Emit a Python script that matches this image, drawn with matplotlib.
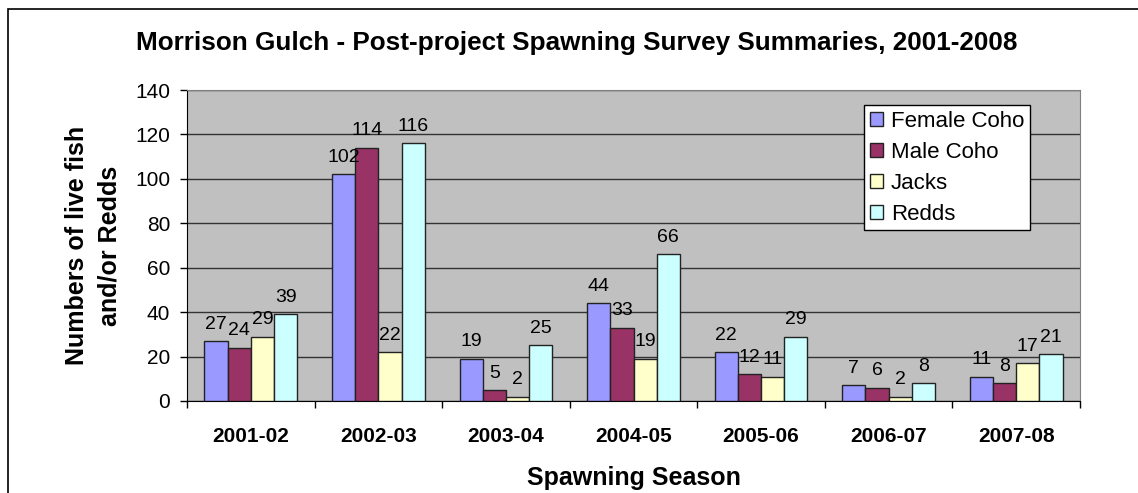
import numpy as np
import matplotlib
matplotlib.use("Agg")
import matplotlib.pyplot as plt
from matplotlib.patches import Rectangle

plt.rcParams['font.family'] = ['Liberation Sans', 'DejaVu Sans']

# survey seasons and counts per category
seasons = ["2001-02", "2002-03", "2003-04", "2004-05", "2005-06", "2006-07", "2007-08"]
female_coho = [27, 102, 19, 44, 22, 7, 11]
male_coho = [24, 114, 5, 33, 12, 6, 8]
jacks = [29, 22, 2, 19, 11, 2, 17]
redds = [39, 116, 25, 66, 29, 8, 21]

series_names = ["Female Coho", "Male Coho", "Jacks", "Redds"]
series_values = [female_coho, male_coho, jacks, redds]
colors = ["#9999FF", "#993366", "#FFFFCC", "#CCFFFF"]

W, H = 1138, 493
fig = plt.figure(figsize=(W / 100, H / 100), dpi=100)
ax = fig.add_axes([187 / W, 1 - 401 / H, (1080 - 187) / W, (401 - 90) / H])

# outer chart frame (runs off the right and bottom edges)
fig.patches.append(Rectangle((8 / W, -0.1), 1.2, 1 - 9 / H + 0.1, transform=fig.transFigure,
                             fill=False, edgecolor="black", linewidth=1.2, zorder=0))

x = np.arange(len(seasons))
bw = 1 / 5.5
for i, (name, vals, c) in enumerate(zip(series_names, series_values, colors)):
    pos = x + (i - 1.5) * bw
    ax.bar(pos, vals, width=bw, color=c, edgecolor="#222222", linewidth=1.0,
           label=name, zorder=3)
    for p, v in zip(pos, vals):
        ax.annotate(str(v), (p, v), xytext=(0, 6), textcoords="offset points",
                    ha="center", va="bottom", fontsize=14, zorder=4)

ax.set_facecolor("#C0C0C0")
ax.set_xlim(-0.5, len(seasons) - 0.5)
ax.set_ylim(0, 140)
ax.set_yticks(np.arange(0, 141, 20))
ax.yaxis.grid(True, color="#333333", linewidth=1.0, zorder=1)
ax.set_axisbelow(True)

ax.set_xticks(x)
ax.set_xticklabels(seasons, fontsize=15, fontweight="bold")
ax.tick_params(axis="x", which="major", length=0, pad=19)
ax.set_xticks(np.arange(-0.5, len(seasons)), minor=True)
ax.tick_params(axis="x", which="minor", length=5, width=1, direction="out")
ax.tick_params(axis="y", labelsize=15, length=5, width=1, direction="out", pad=7)

for s in ["top", "right"]:
    ax.spines[s].set_color("#808080")
for s in ["left", "bottom"]:
    ax.spines[s].set_color("black")

ax.set_xlabel("Spawning Season", fontsize=18, fontweight="bold", va="center")
ax.xaxis.set_label_coords(0.5, (401 - 478) / (401 - 90))
ax.set_ylabel("Numbers of live fish\nand/or Redds", fontsize=18, fontweight="bold",
              linespacing=1.45, va="center")
ax.yaxis.set_label_coords((93 - 187) / (1080 - 187), 0.5)

fig.text(577 / W, 1 - 43 / H,
         "Morrison Gulch - Post-project Spawning Survey Summaries, 2001-2008",
         ha="center", va="center", fontsize=18.8, fontweight="bold")

leg = ax.legend(loc="upper right", fontsize=16,
                frameon=True, fancybox=False, edgecolor="black", framealpha=1,
                handlelength=0.6, handleheight=0.6, handletextpad=0.35, labelspacing=0.45,
                borderpad=0.25, borderaxespad=0)
leg.set_bbox_to_anchor(((1030 - 187) / (1080 - 187), (401 - 105) / (401 - 90)),
                       transform=ax.transAxes)
leg.get_frame().set_linewidth(1.0)

fig.savefig("out.png", dpi=100)
